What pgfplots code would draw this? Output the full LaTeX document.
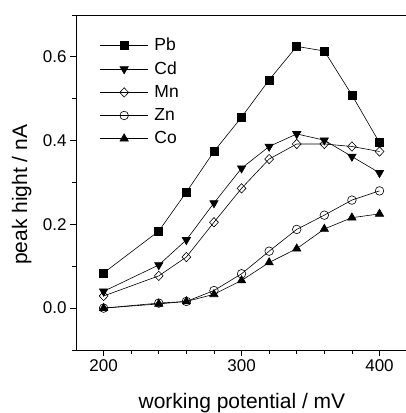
\documentclass[border=0pt]{standalone}
\usepackage{fontspec}
\setmainfont{Liberation Sans}
\usepackage{pgfplots}
\pgfplotsset{compat=1.18}
\begin{document}
\begin{tikzpicture}
\begin{axis}[
  scale only axis,
  width=338pt, height=335pt,
  xmin=180, xmax=425, ymin=-0.1, ymax=0.7,
  xtick={200,300,400}, minor xtick={220,240,260,280,320,340,360,380,420},
  ytick={0,0.2,0.4,0.6}, minor ytick={-0.1,0.1,0.3,0.5,0.7},
  yticklabel style={/pgf/number format/.cd,fixed,fixed zerofill,precision=1},
  /pgf/number format/assume math mode=true,
  tick align=outside, xtick pos=bottom, ytick pos=left,
  major tick length=6pt, minor tick length=3.5pt,
  tick style={black, line width=0.8pt},
  axis line style={line width=0.8pt},
  ticklabel style={font=\fontsize{17}{20}\selectfont},
  every axis x label/.style={at={(axis description cs:0.491,-0.158)},anchor=center},
  every axis y label/.style={at={(axis description cs:-0.161,0.463)},anchor=center,rotate=90},
  xlabel={working potential / mV},
  ylabel={peak hight / nA},
  label style={font=\fontsize{21}{24}\selectfont},
  legend style={draw=none, fill=none, at={(rel axis cs:0.07,0.937)}, anchor=north west,
    font=\fontsize{17.5}{20}\selectfont, row sep=5.5pt, inner sep=0pt},
  legend cell align=left,
  legend image code/.code={\draw[mark repeat=2,mark phase=2] plot coordinates {(0pt,0pt) (24pt,0pt) (48pt,0pt)};\path (52pt,0pt);},
  every axis plot/.append style={black, line width=0.6pt, mark options={solid, line width=0.6pt}},
]
\coordinate (ll) at (rel axis cs:0,0);
\addplot[mark=square*, mark size=4pt] coordinates {
(200,0.084) (240,0.184) (260,0.277) (280,0.374) (300,0.456) (320,0.545) (340,0.625) (360,0.614) (380,0.509) (400,0.395)};
\addlegendentry{Pb}
\addplot[mark=triangle*, mark size=4.8pt, mark options={rotate=180}] coordinates {
(200,0.040) (240,0.103) (260,0.163) (280,0.251) (300,0.334) (320,0.386) (340,0.416) (360,0.401) (380,0.362) (400,0.323)};
\addlegendentry{Cd}
\addplot[mark=diamond, mark size=4.7pt, mark options={fill=white, xscale=1.25}] coordinates {
(200,0.029) (240,0.077) (260,0.122) (280,0.205) (300,0.286) (320,0.356) (340,0.392) (360,0.392) (380,0.386) (400,0.374)};
\addlegendentry{Mn}
\addplot[mark=o, mark size=4.3pt, mark options={fill=white}] coordinates {
(200,0.000) (240,0.012) (260,0.016) (280,0.042) (300,0.082) (320,0.136) (340,0.188) (360,0.222) (380,0.258) (400,0.280)};
\addlegendentry{Zn}
\addplot[mark=triangle*, mark size=4.8pt] coordinates {
(200,0.000) (240,0.010) (260,0.016) (280,0.033) (300,0.066) (320,0.109) (340,0.142) (360,0.189) (380,0.216) (400,0.225)};
\addlegendentry{Co}
\end{axis}
\pgfresetboundingbox
\path[use as bounding box] ([shift={(-76pt,-63pt)}]ll) rectangle ++(406pt,413pt);
\end{tikzpicture}
\end{document}
